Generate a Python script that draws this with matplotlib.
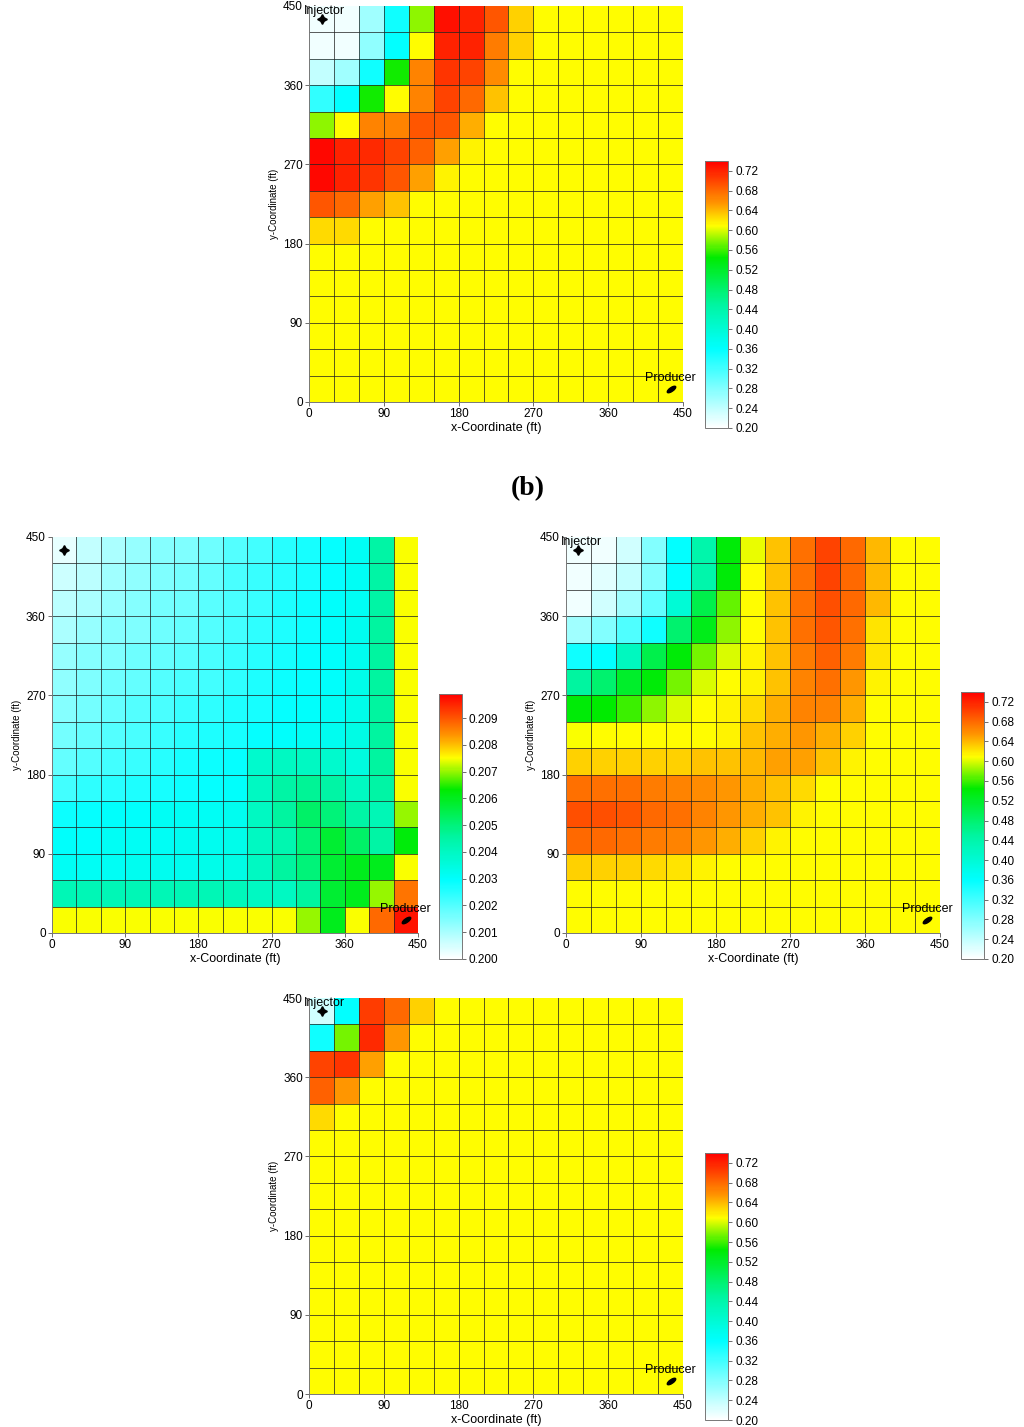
import numpy as np
import matplotlib
matplotlib.use("Agg")
import matplotlib.pyplot as plt
from matplotlib.colors import LinearSegmentedColormap
from matplotlib.markers import MarkerStyle
from matplotlib.transforms import Affine2D

plt.rcParams['font.family'] = ['Liberation Sans', 'DejaVu Sans']

# grid edges (ft) and tick labels
edges = [0, 30, 60, 90, 120, 150, 180, 210, 240, 270, 300, 330, 360, 390, 420, 450]
ticks = [0, 90, 180, 270, 360, 450]
sat_ticks = [0.20, 0.24, 0.28, 0.32, 0.36, 0.40, 0.44, 0.48, 0.52, 0.56, 0.60, 0.64, 0.68, 0.72]
low_ticks = [0.200, 0.201, 0.202, 0.203, 0.204, 0.205, 0.206, 0.207, 0.208, 0.209]

# cell values, rows listed from top (y=450) to bottom (y=0)
sw_top = [
    [0.21, 0.21, 0.26, 0.35, 0.58, 0.73, 0.72, 0.69, 0.63, 0.61, 0.61, 0.61, 0.61, 0.61, 0.61],
    [0.21, 0.21, 0.27, 0.36, 0.61, 0.72, 0.72, 0.67, 0.63, 0.61, 0.61, 0.61, 0.61, 0.61, 0.61],
    [0.24, 0.26, 0.35, 0.55, 0.665, 0.71, 0.70, 0.66, 0.61, 0.61, 0.61, 0.61, 0.61, 0.61, 0.61],
    [0.33, 0.36, 0.55, 0.61, 0.665, 0.70, 0.68, 0.635, 0.61, 0.61, 0.61, 0.61, 0.61, 0.61, 0.61],
    [0.58, 0.61, 0.665, 0.665, 0.69, 0.69, 0.645, 0.61, 0.61, 0.61, 0.61, 0.61, 0.61, 0.61, 0.61],
    [0.735, 0.72, 0.715, 0.70, 0.685, 0.65, 0.615, 0.61, 0.61, 0.61, 0.61, 0.61, 0.61, 0.61, 0.61],
    [0.735, 0.72, 0.71, 0.69, 0.65, 0.615, 0.61, 0.61, 0.61, 0.61, 0.61, 0.61, 0.61, 0.61, 0.61],
    [0.69, 0.68, 0.65, 0.635, 0.61, 0.61, 0.61, 0.61, 0.61, 0.61, 0.61, 0.61, 0.61, 0.61, 0.61],
    [0.625, 0.625, 0.61, 0.61, 0.61, 0.61, 0.61, 0.61, 0.61, 0.61, 0.61, 0.61, 0.61, 0.61, 0.61],
    [0.61, 0.61, 0.61, 0.61, 0.61, 0.61, 0.61, 0.61, 0.61, 0.61, 0.61, 0.61, 0.61, 0.61, 0.61],
    [0.61, 0.61, 0.61, 0.61, 0.61, 0.61, 0.61, 0.61, 0.61, 0.61, 0.61, 0.61, 0.61, 0.61, 0.61],
    [0.61, 0.61, 0.61, 0.61, 0.61, 0.61, 0.61, 0.61, 0.61, 0.61, 0.61, 0.61, 0.61, 0.61, 0.61],
    [0.61, 0.61, 0.61, 0.61, 0.61, 0.61, 0.61, 0.61, 0.61, 0.61, 0.61, 0.61, 0.61, 0.61, 0.61],
    [0.61, 0.61, 0.61, 0.61, 0.61, 0.61, 0.61, 0.61, 0.61, 0.61, 0.61, 0.61, 0.61, 0.61, 0.61],
    [0.61, 0.61, 0.61, 0.61, 0.61, 0.61, 0.61, 0.61, 0.61, 0.61, 0.61, 0.61, 0.61, 0.61, 0.61],
]

sw_mid_left = [
    [0.2003, 0.2007, 0.2010, 0.2012, 0.2014, 0.2015, 0.2017, 0.2020, 0.2022, 0.2025, 0.2027, 0.2029, 0.2031, 0.2045, 0.2075],
    [0.2006, 0.2008, 0.2011, 0.2013, 0.2015, 0.2016, 0.2018, 0.2021, 0.2023, 0.2025, 0.2027, 0.2029, 0.2031, 0.2045, 0.2075],
    [0.2008, 0.2010, 0.2012, 0.2014, 0.2016, 0.2017, 0.2019, 0.2021, 0.2023, 0.2026, 0.2028, 0.2030, 0.2031, 0.2045, 0.2075],
    [0.2010, 0.2012, 0.2014, 0.2015, 0.2017, 0.2018, 0.2020, 0.2022, 0.2024, 0.2026, 0.2028, 0.2030, 0.2032, 0.2046, 0.2075],
    [0.2012, 0.2014, 0.2015, 0.2017, 0.2018, 0.2019, 0.2021, 0.2023, 0.2025, 0.2027, 0.2029, 0.2030, 0.2032, 0.2046, 0.2075],
    [0.2013, 0.2015, 0.2017, 0.2018, 0.2020, 0.2021, 0.2022, 0.2024, 0.2026, 0.2028, 0.2029, 0.2030, 0.2033, 0.2046, 0.2075],
    [0.2014, 0.2016, 0.2018, 0.2020, 0.2021, 0.2023, 0.2024, 0.2026, 0.2027, 0.2029, 0.2030, 0.2031, 0.2033, 0.2046, 0.2075],
    [0.2016, 0.2018, 0.2020, 0.2021, 0.2023, 0.2025, 0.2026, 0.2027, 0.2029, 0.2030, 0.2031, 0.2032, 0.2034, 0.2046, 0.2075],
    [0.2018, 0.2020, 0.2022, 0.2023, 0.2025, 0.2027, 0.2028, 0.2029, 0.2038, 0.2040, 0.2040, 0.2038, 0.2035, 0.2046, 0.2075],
    [0.2022, 0.2024, 0.2025, 0.2026, 0.2027, 0.2028, 0.2029, 0.2030, 0.2040, 0.2045, 0.2047, 0.2045, 0.2040, 0.2045, 0.2075],
    [0.2028, 0.2029, 0.2030, 0.2030, 0.2031, 0.2031, 0.2031, 0.2032, 0.2040, 0.2046, 0.2052, 0.2050, 0.2045, 0.2042, 0.2070],
    [0.2030, 0.2030, 0.2031, 0.2031, 0.2031, 0.2032, 0.2032, 0.2033, 0.2040, 0.2043, 0.2050, 0.2058, 0.2052, 0.2045, 0.2062],
    [0.2031, 0.2031, 0.2031, 0.2032, 0.2032, 0.2032, 0.2033, 0.2034, 0.2040, 0.2046, 0.2050, 0.2058, 0.2060, 0.2060, 0.2075],
    [0.2042, 0.2042, 0.2042, 0.2042, 0.2042, 0.2042, 0.2042, 0.2041, 0.2040, 0.2040, 0.2046, 0.2058, 0.2060, 0.2070, 0.2087],
    [0.2075, 0.2075, 0.2075, 0.2075, 0.2075, 0.2075, 0.2075, 0.2075, 0.2075, 0.2075, 0.2070, 0.2060, 0.2075, 0.2088, 0.2097],
]

sw_mid_right = [
    [0.21, 0.21, 0.23, 0.28, 0.36, 0.44, 0.54, 0.605, 0.635, 0.675, 0.70, 0.68, 0.64, 0.61, 0.61],
    [0.21, 0.22, 0.24, 0.28, 0.36, 0.44, 0.54, 0.61, 0.635, 0.675, 0.70, 0.68, 0.64, 0.61, 0.61],
    [0.21, 0.23, 0.26, 0.30, 0.40, 0.50, 0.57, 0.61, 0.635, 0.675, 0.695, 0.68, 0.64, 0.61, 0.61],
    [0.26, 0.28, 0.31, 0.35, 0.48, 0.53, 0.58, 0.61, 0.635, 0.675, 0.69, 0.675, 0.62, 0.61, 0.61],
    [0.35, 0.36, 0.42, 0.50, 0.54, 0.575, 0.60, 0.615, 0.635, 0.67, 0.685, 0.67, 0.62, 0.61, 0.61],
    [0.45, 0.48, 0.52, 0.54, 0.575, 0.60, 0.61, 0.615, 0.635, 0.665, 0.675, 0.655, 0.615, 0.61, 0.61],
    [0.54, 0.545, 0.56, 0.58, 0.60, 0.61, 0.615, 0.625, 0.645, 0.665, 0.665, 0.645, 0.61, 0.61, 0.61],
    [0.608, 0.61, 0.61, 0.61, 0.61, 0.61, 0.615, 0.635, 0.645, 0.655, 0.645, 0.63, 0.61, 0.61, 0.61],
    [0.63, 0.63, 0.63, 0.63, 0.63, 0.635, 0.635, 0.64, 0.65, 0.65, 0.635, 0.615, 0.61, 0.61, 0.61],
    [0.675, 0.675, 0.675, 0.67, 0.665, 0.66, 0.655, 0.645, 0.635, 0.625, 0.61, 0.61, 0.61, 0.61, 0.61],
    [0.695, 0.695, 0.69, 0.68, 0.675, 0.665, 0.655, 0.645, 0.635, 0.615, 0.61, 0.61, 0.61, 0.61, 0.61],
    [0.68, 0.68, 0.675, 0.67, 0.665, 0.655, 0.645, 0.63, 0.615, 0.61, 0.61, 0.61, 0.61, 0.61, 0.61],
    [0.63, 0.63, 0.63, 0.625, 0.62, 0.615, 0.61, 0.61, 0.61, 0.61, 0.61, 0.61, 0.61, 0.61, 0.61],
    [0.61, 0.61, 0.61, 0.61, 0.61, 0.61, 0.61, 0.61, 0.61, 0.61, 0.61, 0.61, 0.61, 0.61, 0.61],
    [0.61, 0.61, 0.61, 0.61, 0.61, 0.61, 0.61, 0.61, 0.61, 0.61, 0.61, 0.61, 0.61, 0.61, 0.61],
]

sw_bottom = [
    [0.23, 0.36, 0.705, 0.68, 0.63, 0.61, 0.61, 0.61, 0.61, 0.61, 0.61, 0.61, 0.61, 0.61, 0.61],
    [0.35, 0.575, 0.715, 0.655, 0.61, 0.61, 0.61, 0.61, 0.61, 0.61, 0.61, 0.61, 0.61, 0.61, 0.61],
    [0.70, 0.71, 0.65, 0.61, 0.61, 0.61, 0.61, 0.61, 0.61, 0.61, 0.61, 0.61, 0.61, 0.61, 0.61],
    [0.685, 0.655, 0.61, 0.61, 0.61, 0.61, 0.61, 0.61, 0.61, 0.61, 0.61, 0.61, 0.61, 0.61, 0.61],
    [0.625, 0.61, 0.61, 0.61, 0.61, 0.61, 0.61, 0.61, 0.61, 0.61, 0.61, 0.61, 0.61, 0.61, 0.61],
    [0.61, 0.61, 0.61, 0.61, 0.61, 0.61, 0.61, 0.61, 0.61, 0.61, 0.61, 0.61, 0.61, 0.61, 0.61],
    [0.61, 0.61, 0.61, 0.61, 0.61, 0.61, 0.61, 0.61, 0.61, 0.61, 0.61, 0.61, 0.61, 0.61, 0.61],
    [0.61, 0.61, 0.61, 0.61, 0.61, 0.61, 0.61, 0.61, 0.61, 0.61, 0.61, 0.61, 0.61, 0.61, 0.61],
    [0.61, 0.61, 0.61, 0.61, 0.61, 0.61, 0.61, 0.61, 0.61, 0.61, 0.61, 0.61, 0.61, 0.61, 0.61],
    [0.61, 0.61, 0.61, 0.61, 0.61, 0.61, 0.61, 0.61, 0.61, 0.61, 0.61, 0.61, 0.61, 0.61, 0.61],
    [0.61, 0.61, 0.61, 0.61, 0.61, 0.61, 0.61, 0.61, 0.61, 0.61, 0.61, 0.61, 0.61, 0.61, 0.61],
    [0.61, 0.61, 0.61, 0.61, 0.61, 0.61, 0.61, 0.61, 0.61, 0.61, 0.61, 0.61, 0.61, 0.61, 0.61],
    [0.61, 0.61, 0.61, 0.61, 0.61, 0.61, 0.61, 0.61, 0.61, 0.61, 0.61, 0.61, 0.61, 0.61, 0.61],
    [0.61, 0.61, 0.61, 0.61, 0.61, 0.61, 0.61, 0.61, 0.61, 0.61, 0.61, 0.61, 0.61, 0.61, 0.61],
    [0.61, 0.61, 0.61, 0.61, 0.61, 0.61, 0.61, 0.61, 0.61, 0.61, 0.61, 0.61, 0.61, 0.61, 0.61],
]

# well locations (ft)
injector_xy = (15, 435)
producer_xy = (435, 15)

# white -> cyan -> green -> yellow -> orange -> red, like the simulator palette
cmap = LinearSegmentedColormap.from_list("sw", [
    (0.0, "#ffffff"),
    (0.296, "#00ffff"),
    (0.463, "#00f5a0"),
    (0.639, "#00eb00"),
    (0.759, "#ffff00"),
    (0.843, "#ff9600"),
    (1.0, "#ff0000"),
])

fig = plt.figure(figsize=(10.24, 14.27), dpi=100)


def draw_panel(rect, cb_rect, values, vmin, vmax, cticks, cfmt, show_inj_label=True):
    ax = fig.add_axes(rect)
    data = np.array(values)[::-1]  # flip so row 0 is y=0
    im = ax.pcolormesh(edges, edges, data, cmap=cmap, vmin=vmin, vmax=vmax, shading='flat')
    for e in edges[1:-1]:
        ax.axhline(e, color='#222222', lw=0.7, alpha=0.75)
        ax.axvline(e, color='#222222', lw=0.7, alpha=0.75)
    ax.set_xlim(0, 450)
    ax.set_ylim(0, 450)
    ax.set_xticks(ticks)
    ax.set_yticks(ticks)
    ax.tick_params(labelsize=8.5, length=3, width=0.6, color='#555555', pad=1.5)
    for s in ['top', 'right']:
        ax.spines[s].set_visible(False)
    for s in ['left', 'bottom']:
        ax.spines[s].set_color('#777777')
        ax.spines[s].set_linewidth(0.7)
    ax.set_xlabel('x-Coordinate (ft)', fontsize=9, labelpad=1)
    ax.set_ylabel('y-Coordinate (ft)', fontsize=7, labelpad=3)

    # wells
    ax.plot(*injector_xy, marker=(4, 1, 0), color='black', ms=7, clip_on=False)
    if show_inj_label:
        ax.text(-6, 444, 'Injector', fontsize=9, ha='left', va='center', clip_on=False)
    ell = MarkerStyle('o', transform=Affine2D().scale(1.6, 0.6).rotate_deg(35))
    ax.plot(*producer_xy, marker=ell, color='black', ms=4.5, clip_on=False)
    ax.text(producer_xy[0], 27, 'Producer', fontsize=9, ha='center', va='center', clip_on=False)

    cax = fig.add_axes(cb_rect)
    cb = fig.colorbar(im, cax=cax, ticks=cticks, format=cfmt)
    cb.outline.set_edgecolor('#777777')
    cb.outline.set_linewidth(0.7)
    cax.tick_params(labelsize=8.5, length=3, width=0.6, color='#555555', pad=2)
    return ax


draw_panel([0.3018, 0.7183, 0.3652, 0.2775], [0.6885, 0.7001, 0.0225, 0.1871],
           sw_top, 0.20, 0.74, sat_ticks, '%.2f')
draw_panel([0.0508, 0.3462, 0.3574, 0.2775], [0.4287, 0.3280, 0.0225, 0.1857],
           sw_mid_left, 0.200, 0.2099, low_ticks, '%.3f', show_inj_label=False)
draw_panel([0.5527, 0.3462, 0.3652, 0.2775], [0.9385, 0.3280, 0.0225, 0.1871],
           sw_mid_right, 0.20, 0.74, sat_ticks, '%.2f')
draw_panel([0.3018, 0.0231, 0.3652, 0.2775], [0.6885, 0.0049, 0.0225, 0.1871],
           sw_bottom, 0.20, 0.74, sat_ticks, '%.2f')

fig.text(0.5156, 1 - 489 / 1427, '(b)', fontsize=20, fontweight='bold',
         family=['Liberation Serif', 'DejaVu Serif'], ha='center', va='center')

fig.savefig('out.png', dpi=100)
